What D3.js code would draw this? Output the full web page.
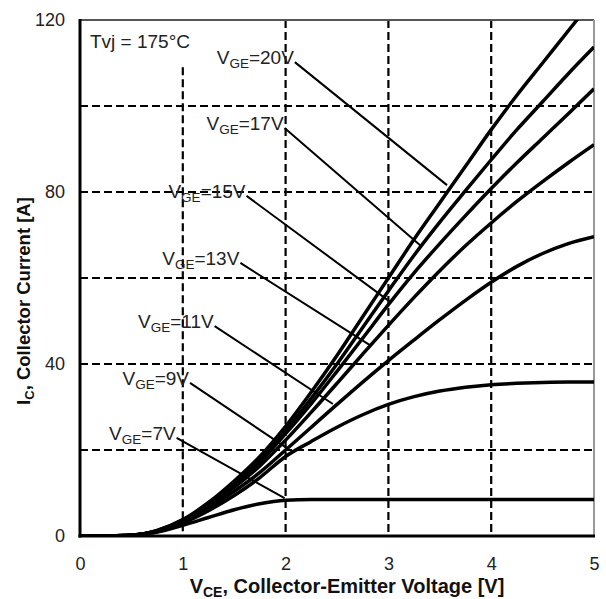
<!DOCTYPE html>
<html><head><meta charset="utf-8">
<script src="https://cdn.jsdelivr.net/npm/d3@7"></script>
<style>
body{margin:0;background:#fff}
svg{display:block}
text{font-family:"Liberation Sans",Arial,sans-serif;fill:#000}
</style>
</head><body>
<svg id="chart" width="606" height="599"></svg>
<script>
// ---------- data ----------
const vce = [0, 0.5, 0.75, 1, 1.25, 1.5, 1.75, 2, 2.25, 2.5, 2.75, 3, 3.25, 3.5, 3.75, 4, 4.25, 4.5, 4.75, 5];
const ic20V = [0, 0.2, 1.3, 3.8, 7.8, 12.8, 18.5, 25.5, 33.5, 42, 51, 60, 69, 77.5, 86, 94.5, 102.5, 110, 117.5, 125];
const ic17V = [0, 0.2, 1.25, 3.7, 7.5, 12.3, 17.8, 24.5, 32, 40, 48.5, 57, 65.3, 73, 80.3, 87.5, 94.5, 101, 107.5, 113.7];
const ic15V = [0, 0.2, 1.2, 3.6, 7.2, 11.8, 17.2, 23.8, 30.8, 38.3, 46, 53.8, 61.2, 68, 74.5, 80.8, 86.8, 92.5, 98.2, 104];
const ic13V = [0, 0.2, 1.15, 3.5, 7, 11.3, 16.3, 22.3, 28.8, 35.5, 42.3, 49, 55.5, 61.7, 67.5, 72.8, 77.8, 82.4, 86.8, 91];
const ic11V = [0, 0.2, 1.1, 3.3, 6.5, 10.4, 14.8, 20, 25.3, 30.6, 35.8, 40.8, 45.6, 50.3, 54.8, 59, 62.7, 65.7, 68, 69.6];
const ic9V  = [0, 0.2, 1, 3, 5.9, 9.4, 13.6, 18.5, 22, 25.3, 28.2, 30.6, 32.4, 33.7, 34.6, 35.2, 35.5, 35.7, 35.8, 35.8];
const ic7V  = [0, 0.2, 0.9, 2.5, 4.3, 6.1, 7.5, 8.3, 8.5, 8.5, 8.5, 8.5, 8.5, 8.5, 8.5, 8.5, 8.5, 8.5, 8.5, 8.5];

const seriesNames = ["20V", "17V", "15V", "13V", "11V", "9V", "7V"];
const seriesValues = [ic20V, ic17V, ic15V, ic13V, ic11V, ic9V, ic7V];

// label leader lines (data units)
const leaderStartV = [2.09, 1.99, 1.62, 1.56, 1.31, 1.07, 0.94];
const leaderStartI = [110.2, 94.9, 79.1, 63.5, 48.8, 35.6, 22.8];
const leaderEndV   = [3.57, 3.32, 3.02, 2.82, 2.46, 2.01, 1.99];
const leaderEndI   = [81.6, 67.4, 54.4, 44.4, 30.7, 20.5, 8.8];

const xTicks = [0, 1, 2, 3, 4, 5];
const yTicks = [0, 40, 80, 120];
const xGrid = [1, 2, 3, 4];
const yGrid = [20, 40, 60, 80, 100];
const tempLabel = "Tvj = 175°C";

// ---------- chart ----------
const svg = d3.select("#chart");
const L = 80, R = 594, T = 20, B = 536;
const x = d3.scaleLinear().domain([0, 5]).range([L, R]);
const y = d3.scaleLinear().domain([0, 120]).range([B, T]);

svg.append("defs").append("clipPath").attr("id", "clip")
  .append("rect").attr("x", L).attr("y", T).attr("width", R - L).attr("height", B - T);

// grid
const g = svg.append("g");
g.selectAll(".hg").data(yGrid).join("line")
  .attr("x1", L).attr("x2", R).attr("y1", d => y(d)).attr("y2", d => y(d))
  .attr("stroke", "#000").attr("stroke-width", 2.2).attr("stroke-dasharray", "8,4");
g.selectAll(".vg").data(xGrid).join("line")
  .attr("x1", d => x(d)).attr("x2", d => x(d))
  .attr("y1", d => d === 1 ? y(109) : T).attr("y2", B)
  .attr("stroke", "#000").attr("stroke-width", 2.2).attr("stroke-dasharray", "8,4");

// frame
svg.append("line").attr("x1", L).attr("x2", R).attr("y1", T).attr("y2", T).attr("stroke", "#555").attr("stroke-width", 2);
svg.append("line").attr("x1", R).attr("x2", R).attr("y1", T).attr("y2", B).attr("stroke", "#999").attr("stroke-width", 2);

// curves
const line = d3.line().x(d => x(d[0])).y(d => y(d[1])).curve(d3.curveMonotoneX);
svg.append("g").attr("clip-path", "url(#clip)")
  .selectAll("path").data(seriesValues).join("path")
  .attr("d", vals => line(vce.map((v, i) => [v, vals[i]])))
  .attr("fill", "none").attr("stroke", "#000").attr("stroke-width", 3.5)
  .attr("stroke-linejoin", "round");

// leader lines
svg.append("g").selectAll("line").data(seriesNames).join("line")
  .attr("x1", (d, i) => x(leaderStartV[i])).attr("y1", (d, i) => y(leaderStartI[i]))
  .attr("x2", (d, i) => x(leaderEndV[i])).attr("y2", (d, i) => y(leaderEndI[i]))
  .attr("stroke", "#000").attr("stroke-width", 2);

// labels
const lab = svg.append("g").selectAll("text").data(seriesNames).join("text")
  .attr("x", (d, i) => x(leaderStartV[i]) - 1)
  .attr("y", (d, i) => y(leaderStartI[i]) + 2)
  .attr("text-anchor", "end").attr("font-size", 19).style("fill", "#222");
lab.append("tspan").text("V");
lab.append("tspan").attr("font-size", 13.5).attr("dy", 4).text("GE");
lab.append("tspan").attr("dy", -4).text(d => "=" + d);

svg.append("text").attr("x", 90).attr("y", 48).attr("font-size", 19).style("fill", "#222").text(tempLabel);

// axes
const xAxis = svg.append("g").attr("transform", `translate(0,${B})`)
  .call(d3.axisBottom(x).tickValues(xTicks).tickSize(0).tickPadding(21).tickFormat(d3.format("d")));
xAxis.select(".domain").remove();
xAxis.selectAll("text").attr("font-size", 18).style("fill", "#222").attr("font-family", "Liberation Sans, Arial, sans-serif");

const yAxis = svg.append("g").attr("transform", `translate(${L},0)`)
  .call(d3.axisLeft(y).tickValues(yTicks).tickSize(0).tickPadding(15).tickFormat(d3.format("d")));
yAxis.select(".domain").remove();
yAxis.selectAll("text").attr("font-size", 18).style("fill", "#222").attr("font-family", "Liberation Sans, Arial, sans-serif");

svg.append("line").attr("x1", L).attr("x2", L).attr("y1", T - 1).attr("y2", B + 1.5).attr("stroke", "#000").attr("stroke-width", 3);
svg.append("line").attr("x1", L - 1.5).attr("x2", R + 1).attr("y1", B).attr("y2", B).attr("stroke", "#000").attr("stroke-width", 3);

// axis titles
const xt = svg.append("text").attr("x", 347).attr("y", 593)
  .attr("text-anchor", "middle").attr("font-size", 20).attr("font-weight", "bold").style("fill", "#111");
xt.append("tspan").text("V");
xt.append("tspan").attr("font-size", 14).attr("dy", 4).text("CE");
xt.append("tspan").attr("dy", -4).text(", Collector-Emitter Voltage [V]");

const yt = svg.append("text").attr("transform", `translate(30,301) rotate(-90)`)
  .attr("text-anchor", "middle").attr("font-size", 18.5).attr("font-weight", "bold").style("fill", "#111");
yt.append("tspan").text("I");
yt.append("tspan").attr("font-size", 13).attr("dy", 4).text("C");
yt.append("tspan").attr("dy", -4).text(", Collector Current [A]");
</script>
</body></html>
